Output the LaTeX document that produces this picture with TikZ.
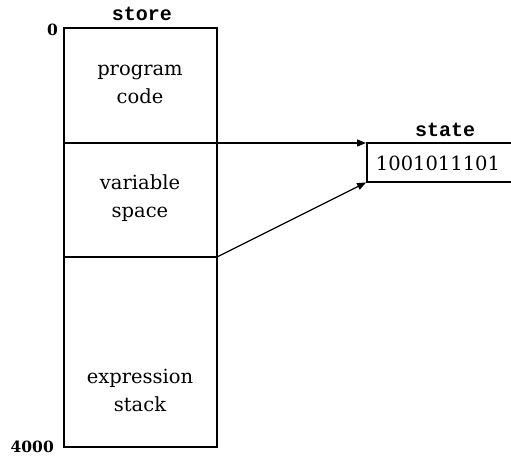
\documentclass[tikz,border=0pt]{standalone}
\usepackage{fontspec}
\setmainfont{DejaVu Serif}
\setmonofont{Liberation Mono}
\usetikzlibrary{arrows.meta}
\begin{document}
\begin{tikzpicture}[x=1pt,y=-1pt,
  txt/.style={font=\fontsize{19.5}{28}\selectfont, inner sep=0pt, align=center},
  num/.style={font=\fontsize{15.5}{20}\selectfont\bfseries, inner sep=0pt},
  lbl/.style={font=\fontsize{20}{24}\selectfont\ttfamily\bfseries, inner sep=0pt},
  region/.style={draw, line width=1.3pt, minimum width=153pt, anchor=north west, inner sep=0pt, outer sep=0pt},
  line/.style={line width=1.3pt},
  arr/.style={line width=1.3pt, -{Triangle[length=9pt,width=7pt]}, shorten >=1pt}]
\useasboundingbox (0,0) rectangle (511,456);
\node[region, minimum height=115pt] (code) at (64,28) {};
\node[region, minimum height=114pt] (var) at (64,143) {};
\node[region, minimum height=190pt] (stack) at (64,257) {};
\node[txt] (codet) at (140,84) {program\\code};
\node[txt] (vart) at (140,198) {variable\\space};
\node[txt] (stackt) at (140,390) {expression\\stack};
\node[lbl] (storel) at (142,14) {store};
\node[num, anchor=east] (zero) at (58,30) {0};
\node[num, anchor=east] (fourk) at (54,447) {4000};
\node[minimum width=144pt, minimum height=39pt, anchor=north west, inner sep=0pt, outer sep=0pt] (state) at (367,143) {};
\draw[line] (state.north east) -- (state.north west) -- (state.south west) -- (state.south east);
\node[txt] (statev) at (438,163) {1001011101};
\node[lbl] (statel) at (445,130) {state};
\draw[arr] (code.south east) -- (state.north west);
\draw[arr] (var.south east) -- (state.south west);
\end{tikzpicture}
\end{document}
